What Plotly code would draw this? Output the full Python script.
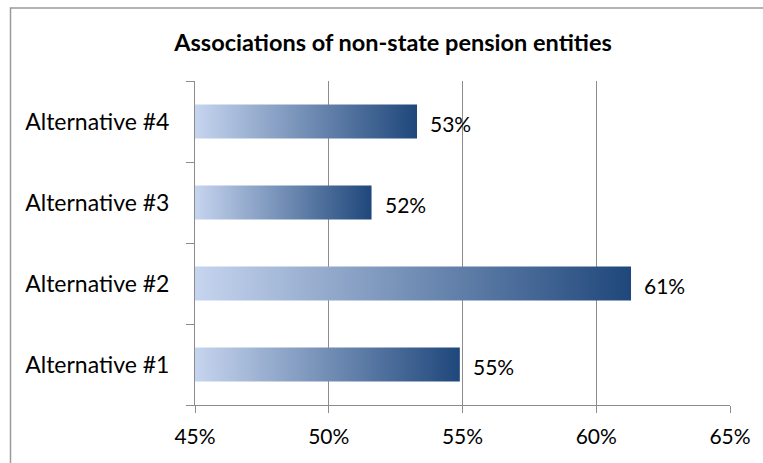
import plotly.graph_objects as go

categories = ["Alternative #1", "Alternative #2", "Alternative #3", "Alternative #4"]
values = [54.9, 61.3, 51.6, 53.3]
x_ticks = [45, 50, 55, 60, 65]
x_tick_labels = ["45%", "50%", "55%", "60%", "65%"]
title_text = "Associations of non-state pension entities"

AXIS_MIN = 45
BAR_HALF = 0.21
LIGHT = "#c6d5ef"
DARK = "#1f477b"
FONT = "Lato"

fig = go.Figure()
for i, (cat, v) in enumerate(zip(categories, values)):
    fig.add_trace(go.Scatter(
        x=[AXIS_MIN, v, v, AXIS_MIN, AXIS_MIN],
        y=[i - BAR_HALF, i - BAR_HALF, i + BAR_HALF, i + BAR_HALF, i - BAR_HALF],
        mode="lines", line=dict(width=0), fill="toself",
        fillgradient=dict(type="horizontal", colorscale=[[0, LIGHT], [1, DARK]]),
        hoverinfo="skip", showlegend=False, name=cat,
    ))
    fig.add_annotation(x=v, y=i, text=f"{round(v)}%", showarrow=False,
                       xanchor="left", xshift=11, yshift=-2,
                       font=dict(family=FONT, size=21, color="#000"))

W, H = 763, 463
L, R, T, B = 195, 33, 81, 58
pw, ph = W - L - R, H - T - B
fig.add_shape(type="rect", xref="paper", yref="paper",
              x0=(10.5 - L) / pw, x1=(W + 5 - L) / pw,
              y0=-(B + 5) / ph, y1=1 + (T - 8) / ph,
              line=dict(color="#9a9a9a", width=1.5), layer="below")

fig.update_layout(
    width=W, height=H,
    margin=dict(l=L, r=R, t=T, b=B, autoexpand=False),
    paper_bgcolor="white", plot_bgcolor="white",
    font=dict(family=FONT, size=21, color="#000"),
    title=dict(text="<b>" + title_text + "</b>", x=(393 - L) / pw, xref="paper", xanchor="center",
               y=1 - 43 / H, yanchor="middle", font=dict(family=FONT, size=23.5, color="#000")),
    xaxis=dict(range=[45, 65], tickvals=x_ticks, ticktext=x_tick_labels,
               showgrid=True, gridcolor="#8c8c8c", gridwidth=1,
               showline=True, linecolor="#8c8c8c", linewidth=1,
               ticks="outside", ticklen=7, tickcolor="#8c8c8c",
               tickfont=dict(size=21), ticklabelstandoff=6, automargin=False,
               zeroline=False, fixedrange=True),
    yaxis=dict(range=[-0.5, 3.5], tickvals=list(range(len(categories))), ticktext=categories,
               showgrid=False, showline=True, linecolor="#8c8c8c", linewidth=1,
               ticks="", ticklabelstandoff=20, zeroline=False, automargin=False,
               tickfont=dict(size=23), fixedrange=True,
               minor=dict(tickvals=[-0.5, 0.5, 1.5, 2.5, 3.5], ticks="outside", ticklen=8,
                          tickcolor="#8c8c8c", showgrid=False)),
)

fig.write_html("out.html", config={"displayModeBar": False, "staticPlot": True},
               post_script="document.body.style.margin='0';document.body.style.overflow='hidden';")
